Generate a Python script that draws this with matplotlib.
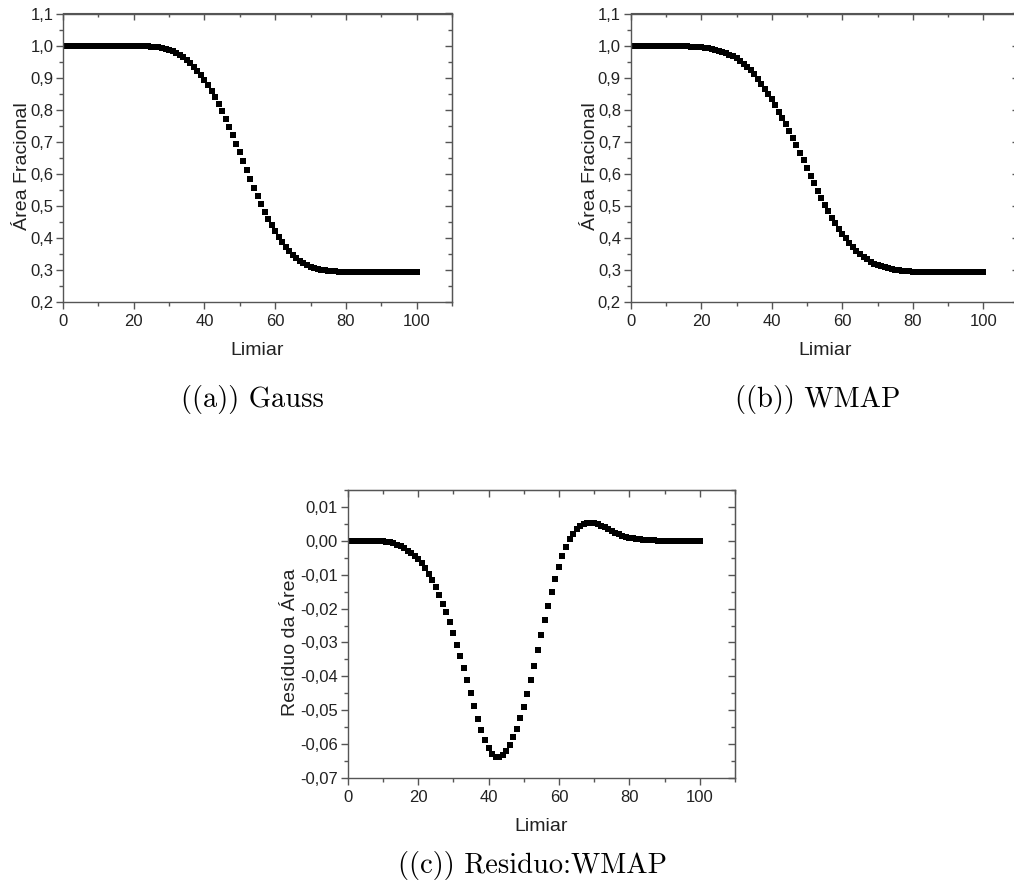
import matplotlib
matplotlib.use('Agg')
import matplotlib.pyplot as plt
from matplotlib.ticker import MultipleLocator, FuncFormatter

limiar = list(range(0, 101))

area_gauss = ([1.000] * 20 +
              [0.999, 0.999, 0.999, 0.998, 0.998, 0.997, 0.996, 0.995, 0.993, 0.990,
               0.987, 0.983, 0.978, 0.972, 0.965, 0.956, 0.945, 0.933, 0.921, 0.907,
               0.893, 0.876, 0.858, 0.839, 0.818, 0.796, 0.772, 0.747, 0.721, 0.694,
               0.667, 0.639, 0.611, 0.584, 0.557, 0.531, 0.506, 0.482, 0.460, 0.440,
               0.421, 0.403, 0.386, 0.371, 0.358, 0.346, 0.336, 0.328, 0.321, 0.315,
               0.310, 0.306, 0.303, 0.301, 0.299, 0.298, 0.297, 0.296, 0.295, 0.295] +
              [0.294] * 21)

area_wmap = ([1.000] * 13 +
             [0.999, 0.999, 0.998, 0.998, 0.997, 0.996, 0.995,
              0.994, 0.992, 0.991, 0.988, 0.986, 0.983, 0.980, 0.977, 0.972, 0.966,
              0.960, 0.952, 0.944, 0.934, 0.924, 0.911, 0.896, 0.881, 0.865, 0.848,
              0.832, 0.813, 0.794, 0.775, 0.755, 0.734, 0.712, 0.689, 0.666, 0.642,
              0.618, 0.594, 0.570, 0.547, 0.525, 0.503, 0.483, 0.463, 0.445, 0.429,
              0.413, 0.399, 0.384, 0.371, 0.360, 0.349, 0.340, 0.333, 0.326, 0.320,
              0.315, 0.311, 0.308, 0.305, 0.302, 0.301, 0.299, 0.298, 0.297, 0.296,
              0.295, 0.295, 0.295] +
             [0.294] * 18)

residuo = ([0.0] * 10 +
           [-0.0001, -0.0002, -0.0004, -0.0007, -0.0011, -0.0016, -0.0022, -0.0029, -0.0037, -0.0046,
            -0.0054, -0.0066, -0.0080, -0.0098, -0.0116, -0.0137, -0.0160, -0.0185, -0.0211, -0.0241,
            -0.0272, -0.0306, -0.0340, -0.0376, -0.0412, -0.0449, -0.0488, -0.0525, -0.0557, -0.0587,
            -0.0612, -0.0629, -0.0637, -0.0637, -0.0631, -0.0619, -0.0603, -0.0580, -0.0554, -0.0524,
            -0.0491, -0.0453, -0.0412, -0.0369, -0.0323, -0.0279, -0.0234, -0.0191, -0.0151, -0.0113,
            -0.0078, -0.0045, -0.0018, 0.0004, 0.0021, 0.0034, 0.0043, 0.0049, 0.0053, 0.0054,
            0.0053, 0.0050, 0.0045, 0.0040, 0.0034, 0.0029, 0.0024, 0.0019, 0.0015, 0.0012,
            0.0009, 0.0007, 0.0005, 0.0004, 0.0003, 0.0002, 0.0001, 0.0001] +
           [0.0] * 13)

GRAY = '#555555'
TXT = '#222222'
plt.rcParams['font.family'] = ['Liberation Sans', 'DejaVu Sans']


def comma_fmt(ndec):
    def f(v, pos):
        if abs(v) < 1e-9:
            v = 0.0
        return ('{:.%df}' % ndec).format(v).replace('.', ',')
    return FuncFormatter(f)


def style_axes(ax, ylim, ymajor, yminor, ndec):
    ax.set_xlim(0, 110)
    ax.set_ylim(*ylim)
    ax.xaxis.set_major_locator(MultipleLocator(20))
    ax.xaxis.set_minor_locator(MultipleLocator(10))
    ax.yaxis.set_major_locator(MultipleLocator(ymajor))
    ax.yaxis.set_minor_locator(MultipleLocator(yminor))
    ax.yaxis.set_major_formatter(comma_fmt(ndec))
    for s in ax.spines.values():
        s.set_color(GRAY)
        s.set_linewidth(1.0)
    ax.tick_params(which='both', direction='out', color=GRAY, width=1.0,
                   top=False, right=False)
    ax.tick_params(which='major', length=5, labelsize=12, labelcolor=TXT, pad=2)
    ax.tick_params(which='minor', length=3)
    ax.tick_params(axis='x', which='major', pad=4)

    # top and right axes: ticks pointing inside, no labels
    top = ax.secondary_xaxis('top')
    top.xaxis.set_major_locator(MultipleLocator(20))
    top.xaxis.set_minor_locator(MultipleLocator(10))
    top.tick_params(which='both', direction='in', color=GRAY, width=1.0, labeltop=False)
    top.tick_params(which='major', length=5)
    top.tick_params(which='minor', length=3)
    top.spines['top'].set_color(GRAY)
    right = ax.secondary_yaxis('right')
    right.yaxis.set_major_locator(MultipleLocator(ymajor))
    right.yaxis.set_minor_locator(MultipleLocator(yminor))
    right.tick_params(which='both', direction='in', color=GRAY, width=1.0, labelright=False)
    right.tick_params(which='major', length=5)
    right.tick_params(which='minor', length=3)
    right.spines['right'].set_color(GRAY)

    ax.set_xlabel('Limiar', fontsize=14, color=TXT, labelpad=9)


fig = plt.figure(figsize=(10.14, 8.91), dpi=100)
W, H = 1014.0, 891.0

ax_a = fig.add_axes([63 / W, 1 - 302 / H, 389 / W, 288.5 / H])
ax_b = fig.add_axes([630.7 / W, 1 - 302 / H, 388 / W, 288.5 / H])
ax_c = fig.add_axes([347.7 / W, 1 - 778 / H, 387.3 / W, 288 / H])

mk = dict(marker='s', linestyle='none', color='black', markersize=3.8,
          markeredgewidth=0)

ax_a.plot(limiar, area_gauss, **mk)
style_axes(ax_a, (0.2, 1.1), 0.1, 0.05, 1)
ax_a.set_ylabel('Área Fracional', fontsize=14, color=TXT)
ax_a.yaxis.set_label_coords(-0.082, 0.47)

ax_b.plot(limiar, area_wmap, **mk)
style_axes(ax_b, (0.2, 1.1), 0.1, 0.05, 1)
ax_b.set_ylabel('Área Fracional', fontsize=14, color=TXT)
ax_b.yaxis.set_label_coords(-0.082, 0.47)

ax_c.plot(limiar, residuo, **mk)
style_axes(ax_c, (-0.07, 0.015), 0.01, 0.005, 2)
ax_c.set_ylabel('Resíduo da Área', fontsize=14, color=TXT)
ax_c.yaxis.set_label_coords(-0.126, 0.47)

cap = dict(fontsize=20.5, family='cmr10', ha='center', va='center', color='black')
fig.text(252 / W, 1 - 399 / H, '((a)) Gauss', **cap)
fig.text(818 / W, 1 - 399 / H, '((b)) WMAP', **cap)
fig.text(533 / W, 1 - 866 / H, '((c)) Residuo:WMAP', **cap)

fig.savefig('out.png', dpi=100, facecolor='white')
